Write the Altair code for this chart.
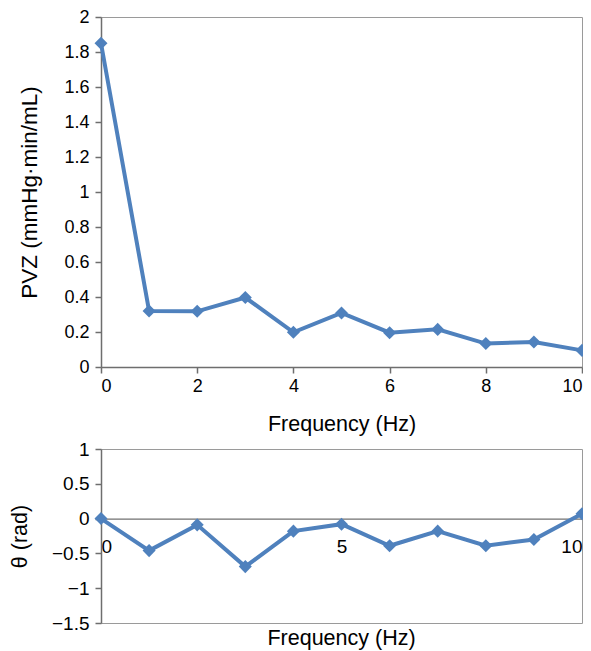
import altair as alt
import pandas as pd

# ---- data ----
freq = [0, 1, 2, 3, 4, 5, 6, 7, 8, 9, 10]
pvz = [1.85, 0.32, 0.318, 0.397, 0.198, 0.309, 0.196, 0.215, 0.134, 0.143, 0.095]
theta = [0.0, -0.46, -0.09, -0.69, -0.18, -0.08, -0.39, -0.18, -0.39, -0.30, 0.07]

top_x_ticks = [0, 2, 4, 6, 8, 10]
top_y_ticks = [0, 0.2, 0.4, 0.6, 0.8, 1, 1.2, 1.4, 1.6, 1.8, 2]
bot_x_ticks = [0, 5, 10]
bot_y_ticks = [1, 0.5, 0, -0.5, -1, -1.5]

df = pd.DataFrame({"freq": freq, "pvz": pvz, "theta": theta})

BLUE = "#4f81bd"
FONT = "Liberation Sans"
AXIS_GRAY = "#6e6e6e"

TOP_W, TOP_H = 481, 350
BOT_W, BOT_H = 481, 174
BOT_DOMAIN = [-1.5, 1]

point_def = alt.OverlayMarkDef(shape="diamond", size=170, filled=True, color=BLUE, opacity=1)

top = (
    alt.Chart(df)
    .mark_line(color=BLUE, strokeWidth=4, point=point_def)
    .encode(
        x=alt.X("freq:Q", scale=alt.Scale(domain=[0, 10], nice=False),
                axis=alt.Axis(values=top_x_ticks, title="Frequency (Hz)", tickSize=6,
                              labelFontSize=18, labelPadding=4, titlePadding=18,
                              titleFontSize=21.5, grid=False, labelOverlap=False)),
        y=alt.Y("pvz:Q", scale=alt.Scale(domain=[0, 2], nice=False),
                axis=alt.Axis(values=top_y_ticks, format="~f", title="PVZ (mmHg·min/mL)",
                              labelFontSize=18, tickSize=6, labelPadding=6, titlePadding=22,
                              titleFontSize=22.5, grid=False, labelOverlap=False)),
    )
    .properties(width=TOP_W, height=TOP_H)
)

# x axis of the lower panel crosses at theta = 0 (as in the original)
zero_offset = -BOT_H * (0 - BOT_DOMAIN[0]) / (BOT_DOMAIN[1] - BOT_DOMAIN[0])

bottom = (
    alt.Chart(df)
    .mark_line(color=BLUE, strokeWidth=4, point=point_def)
    .encode(
        x=alt.X("freq:Q", scale=alt.Scale(domain=[0, 10], nice=False),
                axis=alt.Axis(values=bot_x_ticks, title=None, ticks=False,
                              labelFontSize=19, domain=True, domainWidth=1.2,
                              domainColor="#707070", offset=zero_offset,
                              labelPadding=19, grid=False, labelOverlap=False)),
        y=alt.Y("theta:Q", scale=alt.Scale(domain=BOT_DOMAIN, nice=False),
                axis=alt.Axis(values=bot_y_ticks, format="~f", title="θ (rad)",
                              labelFontSize=19, tickSize=6, labelPadding=6, titlePadding=20,
                              titleFontSize=21.5, grid=False, labelOverlap=False)),
    )
    .properties(
        width=BOT_W, height=BOT_H,
        title=alt.TitleParams("Frequency (Hz)", orient="bottom", anchor="middle",
                              font=FONT, fontSize=21.5, fontWeight="normal", color="black",
                              offset=-5),
    )
)

chart = (
    alt.vconcat(top, bottom, spacing=4)
    .properties(padding={"left": 0, "top": -1, "right": -8, "bottom": 0})
    .configure_view(stroke="#9a9a9a", strokeWidth=1)
    .configure_axis(
        domainColor=AXIS_GRAY, domainWidth=1.5, tickColor=AXIS_GRAY, tickWidth=1.5,
        labelFont=FONT, labelColor="black", labelOverlap=False,
        titleFont=FONT, titleFontWeight="normal", titleColor="black",
    )
)

chart.save("out.html", embed_options={"renderer": "svg", "actions": False})
